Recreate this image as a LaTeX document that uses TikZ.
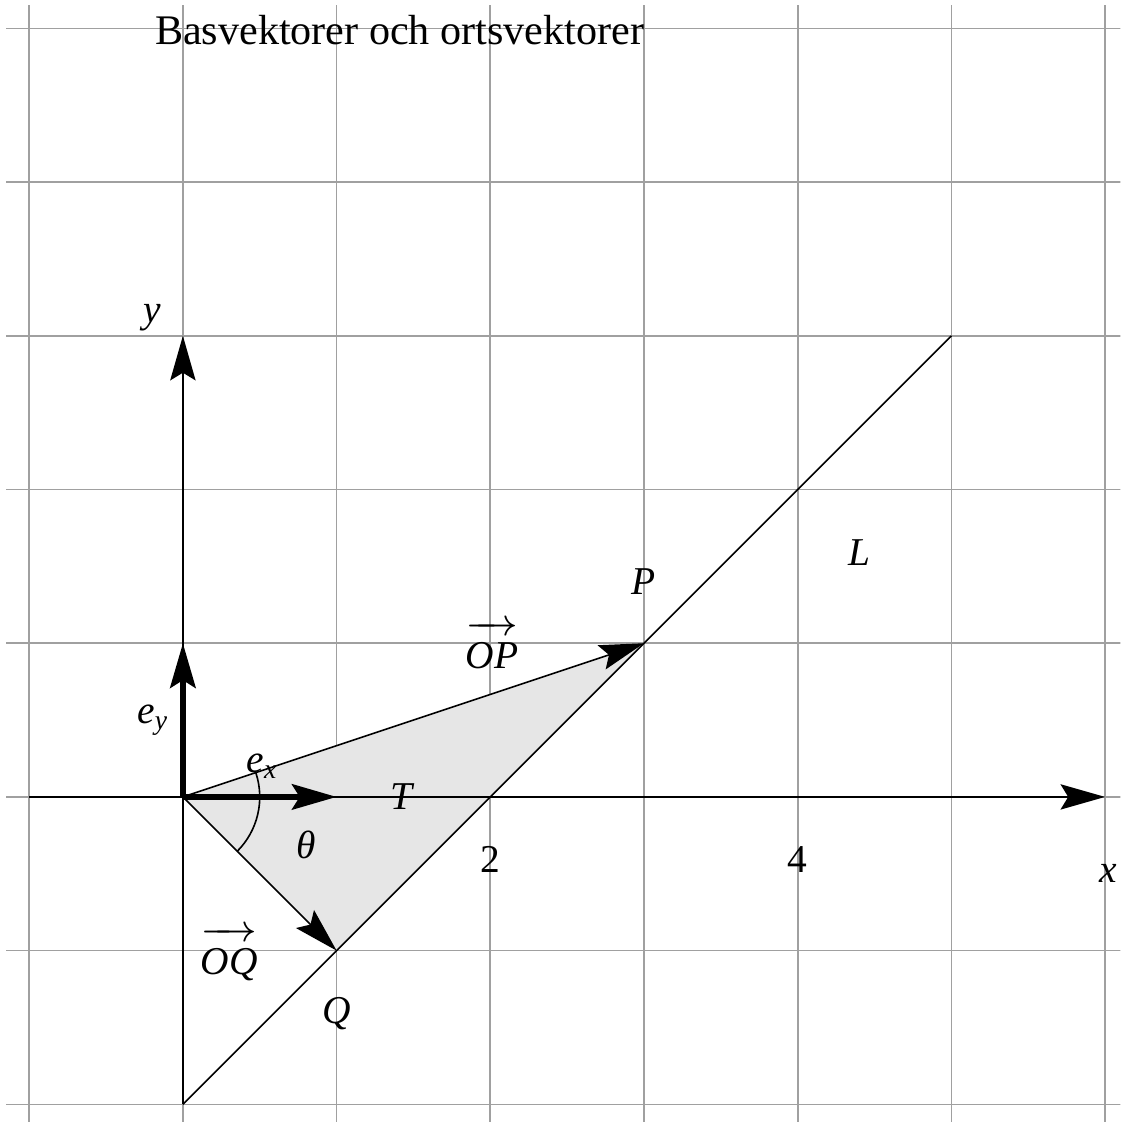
\documentclass[tikz,border=0pt]{standalone}
\usepackage{fontspec}
\setmainfont{Liberation Serif}
\usetikzlibrary{arrows.meta}
\definecolor{gridgray}{RGB}{160,160,160}
\definecolor{trifill}{RGB}{230,230,230}
% vector arrow set above its letters
\newcommand{\vecover}[1]{\vbox{\ialign{##\crcr\rightarrowfill\crcr
    \noalign{\kern1.2pt\nointerlineskip}\hfil#1\hfil\crcr}}}
\tikzset{
  bigtip/.style={-{Stealth[length=2.9mm,width=1.65mm,inset=0.5mm]}},
  thinline/.style={line width=0.3pt},
  basis/.style={bigtip, line width=1.1pt},
  lbl/.style={font=\fontsize{7.3}{8}\selectfont\itshape, inner sep=0pt},
  num/.style={font=\fontsize{7.3}{8}\selectfont, inner sep=0pt},
}

\begin{document}
\begin{tikzpicture}
    \useasboundingbox (-1.19,-2.115) rectangle (6.10,5.185);

    % Grid
    \begin{scope}
        \clip (-1.19,-2.115) rectangle (6.10,5.185);
        \draw[gridgray, line width=0.3pt] (-1.15,-2.15) grid (6.15,5.15);
    \end{scope}

    % Points
    \coordinate (O) at (0,0);
    \coordinate (P) at (3,1);
    \coordinate (Q) at (1,-1);
    \coordinate (Lstart) at (0,-2);
    \coordinate (Lend) at (5,3);
    \coordinate (xstart) at (-1,0);
    \coordinate (xend) at (6,0);
    \coordinate (yend) at (0,3);
    \coordinate (ex) at (1,0);
    \coordinate (ey) at (0,1);

    % Triangle
    \fill[trifill] (O) -- (P) -- (Q) -- cycle;

    % Axes and the line L
    \draw[thinline, bigtip] (xstart) -- (xend);
    \draw[thinline, bigtip] (Lstart) -- (yend);
    \draw[thinline] (Lstart) -- (Lend);

    % Position vectors
    \draw[thinline, bigtip] (O) -- (P);
    \draw[thinline, bigtip] (O) -- (Q);

    % Basis vectors
    \draw[basis] (O) -- (ex);
    \draw[basis] (O) -- (ey);

    % Angle
    \draw[thinline] (O) ++(-45:0.5) arc[start angle=-45, end angle=18.43, radius=0.5];

    % Labels
    \node[font=\fontsize{7.8}{9}\selectfont, inner sep=0pt] (title) at (1.41,4.99)
        {Basvektorer och ortsvektorer};
    \node[lbl] (xlabel) at (6.02,-0.5) {x};
    \node[lbl] (ylabel) at (-0.2,3.12) {y};
    \node[lbl] (eylabel) at (-0.19,0.5) {e\textsubscript{y}};
    \node[lbl] (exlabel) at (0.52,0.2) {e\textsubscript{x}};
    \node[lbl] (Tlabel) at (1.42,0) {T};
    \node[lbl] (thetalabel) at (0.8,-0.31) {θ};
    \node[num] (two) at (2,-0.41) {2};
    \node[num] (four) at (4,-0.41) {4};
    \node[lbl] (Plabel) at (3.0,1.40) {P};
    \node[lbl] (Qlabel) at (1.0,-1.41) {Q};
    \node[lbl] (Llabel) at (4.40,1.59) {L};
    \node[lbl] (OPlabel) at (2.01,0.99) {\vecover{OP}};
    \node[lbl] (OQlabel) at (0.30,-1.02) {\vecover{OQ}};
\end{tikzpicture}
\end{document}
